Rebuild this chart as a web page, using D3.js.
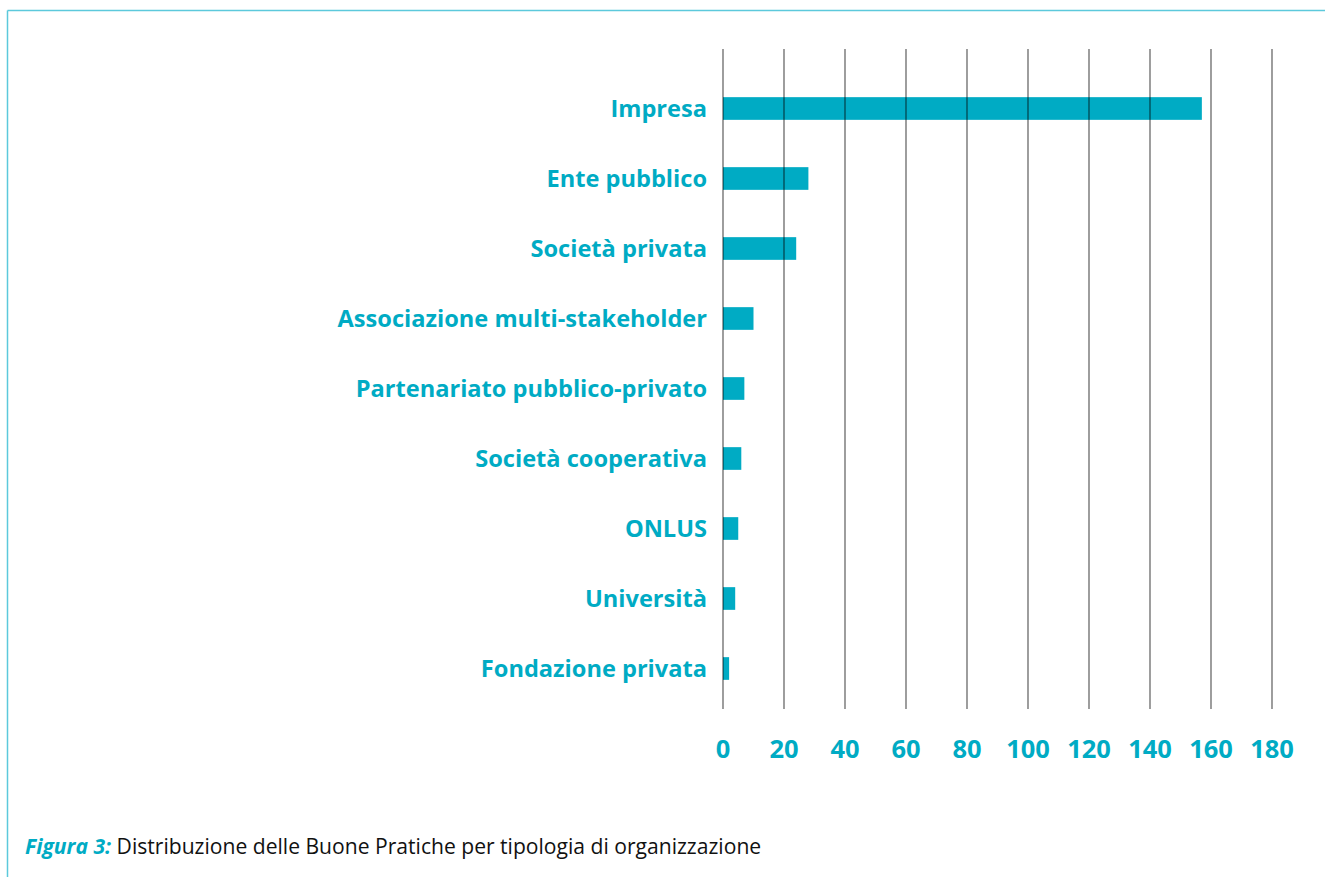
<!DOCTYPE html>
<html><head><meta charset="utf-8">
<script src="https://cdn.jsdelivr.net/npm/d3@7"></script>
<style>html,body{margin:0;padding:0;background:#fff;}</style>
</head><body>
<svg id="chart" width="1325" height="877"></svg>
<script>
const categories = ["Impresa","Ente pubblico","Società privata","Associazione multi-stakeholder","Partenariato pubblico-privato","Società cooperativa","ONLUS","Università","Fondazione privata"];
const values = [157, 28, 24, 10, 7, 6, 5, 4, 2];
const tickValues = [0,20,40,60,80,100,120,140,160,180];
const captionLead = "Figura 3:";
const captionText = " Distribuzione delle Buone Pratiche per tipologia di organizzazione";

const cyan = "#00abc4";
const svg = d3.select("#chart");

// frame
svg.append("line").attr("x1",7.5).attr("x2",1325).attr("y1",10.5).attr("y2",10.5).attr("stroke","#5cc9dc").attr("stroke-width",1.5);
svg.append("line").attr("x1",7.5).attr("x2",7.5).attr("y1",10.5).attr("y2",877).attr("stroke","#5cc9dc").attr("stroke-width",1.5);

const x = d3.scaleLinear().domain([0,180]).range([723,1272]);
const y = d3.scaleBand().domain(categories).range([73.5,703.5]).paddingInner(0.676).paddingOuter(0.338);

// bars
svg.append("g").selectAll("rect").data(categories).join("rect")
  .attr("x", x(0)).attr("y", d=>y(d)).attr("height", y.bandwidth())
  .attr("width", (d,i)=>x(values[i])-x(0)).attr("fill", cyan);

// gridlines on top
svg.append("g").selectAll("line").data(tickValues).join("line")
  .attr("x1", d=>x(d)).attr("x2", d=>x(d)).attr("y1",49).attr("y2",709)
  .attr("stroke","#000").attr("stroke-opacity",0.55).attr("stroke-width",1.4);

// tick labels
svg.append("g").selectAll("text").data(tickValues).join("text")
  .attr("x", d=>x(d)).attr("y", 758).attr("text-anchor","middle")
  .attr("font-family","'Open Sans', sans-serif").attr("font-weight",700).attr("font-size",25.5)
  .attr("fill",cyan).text(d=>d);

// category labels
svg.append("g").selectAll("text").data(categories).join("text")
  .attr("x", 707).attr("y", d=>y(d)+y.bandwidth()/2+8.5).attr("text-anchor","end")
  .attr("font-family","'Open Sans', sans-serif").attr("font-weight",700).attr("font-size",23.6)
  .attr("fill",cyan).text(d=>d);

// caption
const cap = svg.append("text").attr("x",25).attr("y",854)
  .attr("font-family","'Open Sans', sans-serif").attr("font-size",21.1).attr("fill","#111");
cap.append("tspan").attr("font-weight",700).attr("font-style","italic").attr("fill",cyan).text(captionLead);
cap.append("tspan").text(captionText);
</script>
</body></html>
